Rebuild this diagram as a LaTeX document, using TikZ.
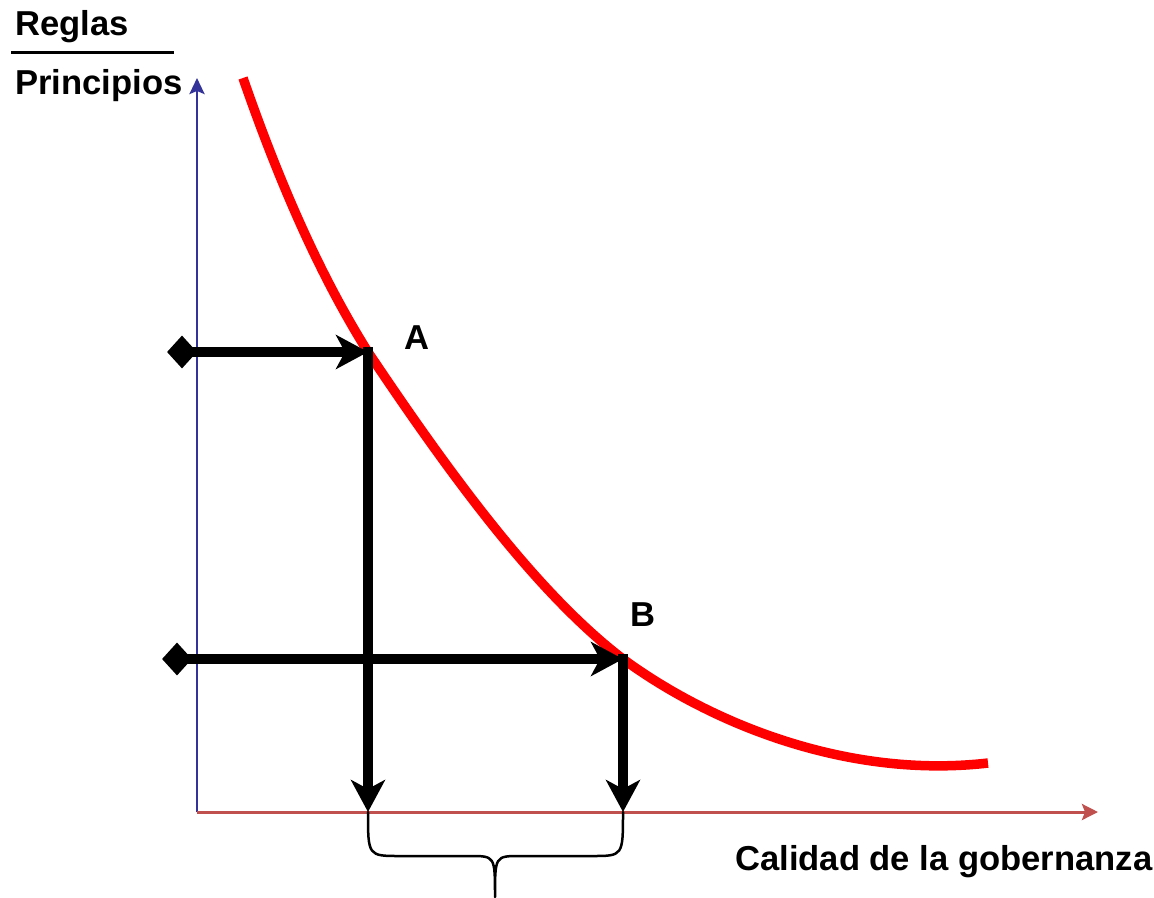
\documentclass[tikz,border=0pt]{standalone}
\usepackage{fontspec}
\setmainfont{Liberation Sans}
\usetikzlibrary{arrows.meta,shapes.geometric}
\definecolor{axisblue}{RGB}{51,51,153}
\definecolor{axisred}{RGB}{192,80,77}
\begin{document}
\begin{tikzpicture}[x=1pt,y=-1pt,
  lbl/.style={font=\fontsize{34.6}{40}\selectfont\bfseries, inner sep=0pt},
  thickarrow/.style={line width=10pt, -{Stealth[length=32pt,width=34pt,inset=9pt]}},
  guide/.style={line width=10pt, -{Stealth[length=32pt,width=34pt,inset=9pt]}},
  dia/.style={diamond, fill=black, inner sep=0pt, minimum width=30pt, minimum height=33pt},
  curve/.style={red, line width=9.5pt},
  bracestyle/.style={line width=2.5pt, line cap=round, line join=round}]
\useasboundingbox (0,0) rectangle (1154,897);
% coordinates
\coordinate (O) at (197,812);
\coordinate (ytop) at (197,78);
\coordinate (xend) at (1098,812);
\coordinate (A) at (368,352);
\coordinate (B) at (623,659);
\coordinate (Ax) at (368,812);
\coordinate (Bx) at (623,812);
\coordinate (tip) at (495,897);
% axes
\draw[axisblue, line width=2.7pt, -{Stealth[length=16pt,width=15pt,inset=3pt]}] (O) -- (ytop);
\draw[axisred, line width=3pt, -{Stealth[length=16pt,width=16pt,inset=3pt]}] (O) -- (xend);
% curve
\draw[curve] (243,78) .. controls (285,199) and (326,285) .. (A)
  .. controls (453,479) and (538,594) .. (B)
  .. controls (713,725) and (850,779) .. (988,763);
% guide arrows
\node[dia] (dA) at (182,352) {};
\node[dia] (dB) at (177,659) {};
\draw[guide] (dA.center) -- (A);
\draw[guide] (dB.center) -- (B);
\draw[thickarrow] ([yshift=5pt]A) -- (Ax);
\draw[thickarrow] ([yshift=5pt]B) -- (Bx);
% brace
\draw[bracestyle] (Ax) .. controls (368,856) .. (400,856) -- (470,856) .. controls (495,856) .. (tip)
  .. controls (495,856) .. (520,856) -- (592,856) .. controls (623,856) .. (Bx);
% labels
\node[lbl, anchor=base west] (tR) at (15,35) {Reglas};
\draw[line width=3pt] (11,52) -- (174,52);
\node[lbl, anchor=base west] (tP) at (15,94) {Principios};
\node[lbl, anchor=center] (tA) at (417,338) {A};
\node[lbl, anchor=center] (tB) at (643,615) {B};
\node[lbl, anchor=base west] (tC) at (735,870) {Calidad de la gobernanza};
\end{tikzpicture}
\end{document}
